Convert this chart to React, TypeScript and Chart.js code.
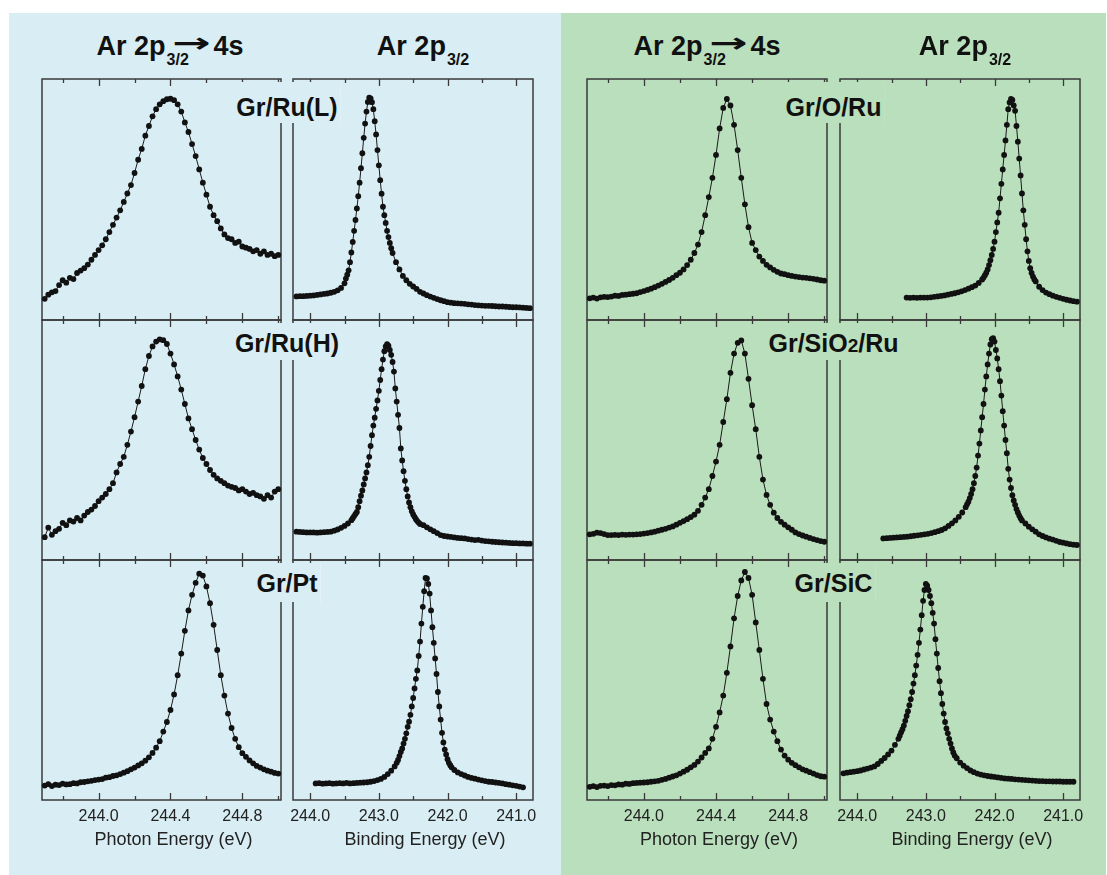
import React, { useEffect, useRef } from "react";
import { Chart, registerables } from "chart.js";

Chart.register(...registerables);

// ---------- axis ticks ----------
const photonMajorTicks = [244.0, 244.4, 244.8];
const photonMajorLabels = ["244.0", "244.4", "244.8"];
const photonMinorTicks = [243.8, 244.2, 244.6, 245.0];
const bindingMajorTicks = [244, 243, 242, 241];
const bindingMajorLabels = ["244.0", "243.0", "242.0", "241.0"];
const bindingMinorTicks = [243.5, 242.5, 241.5];

const photonRange = [243.685, 245.015];
const bindingRange = [240.755, 244.25];

// ---------- sample positions (eV) : [from, to, step] ----------
const photonSegs = [[243.7, 245.0, 0.02]];
const grRuLBindSegs = [[244.2, 243.5, 0.05], [243.48, 242.8, 0.02], [242.75, 240.8, 0.05]];
const grRuHBindSegs = [[244.2, 243.4, 0.05], [243.38, 242.4, 0.02], [242.35, 240.8, 0.05]];
const grPtBindSegs = [[243.92, 242.77, 0.05], [242.74, 241.94, 0.02], [241.9, 240.9, 0.05]];
const grORuBindSegs = [[243.28, 242.18, 0.05], [242.16, 241.4, 0.02], [241.35, 240.8, 0.05]];
const grSiO2BindSegs = [[243.62, 242.42, 0.05], [242.4, 241.6, 0.02], [241.55, 240.8, 0.05]];
const grSiCBindSegs = [[244.2, 243.45, 0.05], [243.4, 242.58, 0.02], [242.55, 240.85, 0.05]];

// ---------- intensities (arb. units, 0-100 of panel height) ----------
const grRuLPhoton = [
  8.8, 10.5, 11.5, 12.0, 14.5, 16.5, 15.5, 17.5, 17.0, 19.5, 20.5,
  21.5, 23.0, 25.0, 27.0, 29.0, 31.0, 33.5, 36.5, 39.5, 42.5, 45.5,
  49.0, 52.5, 56.0, 61.0, 66.5, 71.0, 76.5, 80.5, 84.5, 87.5, 89.5,
  90.8, 91.6, 91.8, 91.2, 89.5, 86.5, 82.0, 78.0, 73.0, 68.0, 62.5,
  57.0, 52.0, 47.0, 43.5, 41.0, 38.0, 35.5, 34.0, 33.5, 32.0, 32.5,
  30.5, 30.0, 29.5, 28.5, 29.0, 27.5, 28.5, 27.0, 27.5, 26.5, 27.0,
];
const grRuHPhoton = [
  9.5, 13.5, 10.5, 12.0, 13.0, 15.5, 14.5, 16.5, 16.0, 17.5, 16.5,
  18.5, 20.0, 21.0, 22.5, 24.5, 26.0, 27.5, 29.5, 32.0, 36.5, 40.0,
  43.0, 48.0, 53.5, 59.5, 66.0, 72.5, 79.5, 85.0, 89.0, 91.0, 91.9,
  91.6, 90.0, 86.0, 81.5, 76.5, 71.0, 65.0, 59.0, 54.5, 50.0, 46.0,
  42.5, 40.0, 37.5, 35.5, 34.0, 33.0, 32.0, 31.0, 30.5, 30.0, 29.0,
  29.5, 28.5, 27.5, 28.0, 27.0, 26.5, 25.5, 27.0, 26.0, 28.5, 29.5,
];
const grPtPhoton = [
  6.0, 6.6, 5.8, 6.4, 6.2, 6.8, 6.5, 6.6, 7.0, 6.9, 7.4,
  7.5, 7.8, 8.0, 8.3, 8.5, 8.7, 9.3, 9.5, 10.0, 10.3, 10.8,
  11.4, 12.0, 12.8, 13.5, 14.4, 15.3, 16.4, 17.8, 19.6, 21.8, 24.5,
  28.5, 32.5, 37.5, 44.0, 52.0, 61.0, 70.5, 79.0, 85.5, 90.5, 94.3,
  93.5, 89.0, 82.0, 73.0, 62.5, 52.0, 43.5, 36.0, 30.0, 25.5, 22.0,
  19.5, 18.0, 16.5, 15.3, 14.2, 13.5, 12.8, 12.2, 11.8, 11.3, 11.0,
];
const grORuPhoton = [
  9.0, 9.3, 8.9, 9.4, 9.6, 9.5, 9.7, 10.1, 10.0, 10.4, 10.5,
  10.7, 10.9, 11.1, 11.6, 12.0, 12.5, 13.0, 13.6, 14.3, 15.0, 15.8,
  16.6, 17.5, 18.6, 19.6, 21.0, 22.8, 25.0, 27.8, 31.3, 36.5, 43.5,
  51.0, 59.0, 68.5, 79.5, 88.0, 91.7, 89.0, 81.0, 70.5, 59.0, 48.0,
  38.5, 32.0, 29.0, 26.3, 24.5, 22.9, 21.8, 20.8, 20.0, 19.3, 19.0,
  18.6, 18.3, 18.0, 17.8, 17.6, 17.5, 17.3, 17.1, 16.8, 16.5, 16.3,
];
const grSiO2Photon = [
  10.7, 10.9, 11.4, 11.2, 10.8, 10.4, 10.4, 10.5, 10.4, 10.6, 10.5,
  10.6, 10.6, 10.7, 10.8, 11.0, 11.2, 11.5, 11.8, 12.2, 12.6, 13.0,
  13.5, 14.0, 14.7, 15.5, 16.2, 17.0, 17.9, 18.9, 20.5, 23.0, 26.0,
  29.5, 35.0, 41.0, 48.0, 57.5, 67.0, 78.0, 86.0, 90.5, 91.5, 86.0,
  75.5, 64.5, 54.5, 43.0, 33.5, 27.1, 23.0, 19.7, 17.5, 15.9, 14.7,
  13.6, 12.6, 11.5, 10.8, 10.2, 9.7, 9.2, 8.7, 8.3, 7.9, 7.6,
];
const grSiCPhoton = [
  5.5, 5.8, 5.4, 5.9, 6.0, 5.8, 6.2, 6.1, 6.5, 6.4, 6.8,
  6.7, 7.0, 7.1, 7.2, 7.3, 7.4, 7.6, 7.8, 8.0, 8.4, 8.8,
  9.3, 9.8, 10.3, 11.0, 11.8, 12.6, 13.6, 14.6, 16.0, 17.7, 19.6,
  21.5, 25.5, 30.5, 36.5, 43.5, 53.0, 64.0, 75.7, 85.0, 91.5, 95.0,
  92.5, 85.5, 74.0, 62.5, 50.5, 40.0, 33.5, 28.5, 24.5, 21.0, 18.5,
  16.8, 15.5, 14.5, 13.6, 12.8, 12.2, 11.6, 11.0, 10.4, 9.9, 9.7,
];

const grRuLBinding = [
  9.8, 9.9, 9.9, 10.0, 10.1, 10.2, 10.4, 10.6, 10.8, 11.0, 11.3, 11.7, 12.3, 13.3, 15.2,
  17.2, 18.8, 20.6, 24.0, 28.0, 32.4, 37.0, 41.5, 46.3, 51.4, 57.0, 63.0, 69.2, 75.6, 81.5,
  86.5, 90.5, 92.3, 92.0, 90.4, 87.5, 82.5, 77.0, 70.5, 64.2, 58.0, 52.4, 47.0, 43.5, 40.3,
  37.0, 34.4, 32.0, 29.8, 27.8,
  24.0, 21.0, 18.3, 16.5, 15.0, 13.9, 12.9, 11.7, 11.0, 10.3, 9.7, 9.2, 8.7, 8.2, 7.8,
  7.4, 7.2, 7.0, 6.9, 6.8, 6.7, 6.5, 6.4, 6.2, 6.1, 6.0, 5.9, 5.9, 5.8, 5.7,
  5.6, 5.6, 5.5, 5.4, 5.3, 5.3, 5.2, 5.1, 5.0, 4.9,
];
const grRuHBinding = [
  11.8, 11.7, 11.6, 11.5, 11.5, 11.5, 11.4, 11.5, 11.6, 11.7, 11.8, 12.2, 12.7, 13.4, 14.2, 15.2, 16.6,
  17.4, 18.3, 19.2, 20.0, 22.0, 24.5, 26.8, 29.0, 31.5, 34.0, 36.5, 39.5, 43.0, 47.5, 52.0,
  56.0, 59.3, 63.0, 66.5, 70.5, 75.0, 79.5, 83.5, 87.0, 89.0, 89.9, 89.3, 87.5, 85.5, 82.5,
  78.5, 71.5, 66.0, 60.5, 55.0, 46.5, 41.5, 37.0, 33.0, 29.5, 26.5, 24.0, 22.0, 20.3, 19.0,
  18.0, 17.0, 16.2, 15.6, 15.0,
  14.5, 13.6, 12.8, 12.0, 11.2, 10.4, 10.0, 9.8, 9.6, 9.4, 9.2, 9.1, 9.0, 8.7, 8.5, 8.3,
  8.4, 8.1, 7.9, 7.8, 7.6, 7.5, 7.4, 7.3, 7.2, 7.1, 7.0, 7.0, 6.9, 6.9, 6.8, 6.8,
];
const grPtBinding = [
  6.9, 7.0, 6.8, 6.9, 7.0, 6.8, 6.9, 7.0, 6.9, 7.1, 6.9, 7.0, 7.1, 7.2, 7.3, 7.4, 7.6, 7.9,
  8.3, 8.8, 9.6, 10.8, 12.2, 14.0,
  15.5, 16.7, 18.3, 20.0, 21.5, 23.5, 25.5, 27.8, 30.5, 32.6, 35.5, 39.0, 42.5, 46.5, 50.5,
  54.0, 60.0, 66.0, 73.5, 80.5, 87.0, 92.5, 92.3, 90.0, 86.0, 79.0, 72.0, 65.5, 59.0, 52.5,
  45.0, 39.0, 33.5, 28.0, 24.0, 21.0, 19.0, 17.0, 15.5, 14.5, 13.6,
  12.5, 11.5, 10.8, 10.2, 9.6, 9.2, 8.9, 8.5, 8.2, 7.9, 7.6, 7.5, 7.3, 7.1, 6.9, 6.6, 6.4,
  6.1, 5.9, 5.6, 5.3,
];
const grORuBinding = [
  9.3, 9.2, 9.3, 9.2, 9.3, 9.3, 9.3, 9.4, 9.6, 9.8, 10.0, 10.2, 10.5, 10.8, 11.1, 11.5,
  11.9, 12.4, 13.0, 13.6, 14.3, 15.4, 16.8,
  17.6, 18.6, 19.6, 21.0, 22.8, 24.8, 27.0, 29.5, 32.5, 36.5, 40.5, 44.5, 50.5, 56.5, 62.5,
  68.5, 74.5, 81.0, 87.5, 90.3, 91.7, 91.3, 89.0, 86.8, 80.5, 74.0, 67.0, 60.0, 52.5, 45.5,
  39.5, 33.5, 28.5, 24.5, 21.5, 19.5, 18.0, 16.8, 16.0,
  13.8, 12.4, 11.4, 10.7, 10.1, 9.6, 9.2, 8.8, 8.4, 8.1, 7.8, 7.6,
];
const grSiO2Binding = [
  9.0, 9.1, 9.2, 9.3, 9.4, 9.5, 9.6, 9.7, 9.9, 10.1, 10.3, 10.5, 10.7, 10.9, 11.2, 11.6,
  12.0, 12.5, 13.2, 14.2, 15.3, 16.5, 18.0, 19.8, 22.0,
  23.2, 24.3, 25.8, 27.5, 29.5, 32.0, 35.0, 38.5, 43.5, 48.5, 54.0, 59.5, 65.0, 71.0, 76.5,
  81.5, 86.0, 89.8, 92.0, 92.4, 91.0, 87.5, 84.0, 79.5, 74.5, 68.5, 62.0, 56.0, 50.0, 44.5,
  38.0, 33.5, 30.0, 27.0, 24.8, 23.0, 21.2, 19.8, 18.5, 17.4, 16.5,
  15.2, 13.9, 12.8, 11.8, 10.7, 10.0, 9.4, 8.9, 8.5, 8.0, 7.5, 7.2, 6.9, 6.6, 6.4, 6.25,
];
const grSiCBinding = [
  11.1, 11.4, 11.6, 11.8, 12.0, 12.3, 12.7, 13.1, 13.5, 14.0, 15.0, 16.3, 17.5, 19.0, 20.6, 23.0,
  25.5, 26.8, 28.2, 29.5, 31.0, 33.0, 35.0, 37.0, 39.5, 42.0, 45.0, 48.5, 52.0, 56.0, 60.5,
  65.5, 71.0, 77.0, 83.0, 87.5, 90.0, 89.3, 87.5, 85.0, 82.0, 78.0, 73.5, 67.0, 61.0, 55.0,
  49.5, 44.5, 40.0, 36.0, 32.5, 29.8, 27.8, 25.5, 23.5, 21.5, 19.8, 18.5,
  17.4, 15.6, 14.3, 13.3, 12.3, 11.6, 11.0, 10.6, 10.3, 10.0, 9.8, 9.6, 9.4, 9.2, 9.0, 8.9,
  8.8, 8.6, 8.5, 8.4, 8.3, 8.2, 8.1, 8.0, 7.9, 7.9, 7.8, 7.8, 7.7, 7.7, 7.7, 7.6, 7.6, 7.6, 7.6,
];

const sampleLabels = [
  ["Gr/Ru(L)", "Gr/Ru(H)", "Gr/Pt"],
  ["Gr/O/Ru", "Gr/SiO2/Ru", "Gr/SiC"],
];

// ---------- layout ----------
const colLeft = [42, 293, 587, 840];
const colWidth = [239, 240, 240, 240];
const rowTop = [79, 320, 560];
const rowHeight = [241, 240, 240];
const PAD = 10;
const BLUE = "#d9eef4";
const GREEN = "#badfbc";
const FONT = '"Liberation Sans", Arial, Helvetica, sans-serif';

function sampleX(segs: number[][]): number[] {
  const xs: number[] = [];
  for (const [a, b, step] of segs) {
    const n = Math.round(Math.abs(b - a) / step) + 1;
    const dir = b < a ? -1 : 1;
    for (let i = 0; i < n; i++) xs.push(+(a + dir * i * step).toFixed(3));
  }
  return xs;
}

type PanelDef = { col: number; row: number; segs: number[][]; ys: number[] };

const panels: PanelDef[] = [
  { col: 0, row: 0, segs: photonSegs, ys: grRuLPhoton },
  { col: 1, row: 0, segs: grRuLBindSegs, ys: grRuLBinding },
  { col: 0, row: 1, segs: photonSegs, ys: grRuHPhoton },
  { col: 1, row: 1, segs: grRuHBindSegs, ys: grRuHBinding },
  { col: 0, row: 2, segs: photonSegs, ys: grPtPhoton },
  { col: 1, row: 2, segs: grPtBindSegs, ys: grPtBinding },
  { col: 2, row: 0, segs: photonSegs, ys: grORuPhoton },
  { col: 3, row: 0, segs: grORuBindSegs, ys: grORuBinding },
  { col: 2, row: 1, segs: photonSegs, ys: grSiO2Photon },
  { col: 3, row: 1, segs: grSiO2BindSegs, ys: grSiO2Binding },
  { col: 2, row: 2, segs: photonSegs, ys: grSiCPhoton },
  { col: 3, row: 2, segs: grSiCBindSegs, ys: grSiCBinding },
];

const framePlugin = {
  id: "frame",
  beforeDatasetsDraw(chart: any) {
    const o = chart.options.plugins.frame;
    const { ctx, chartArea: a } = chart;
    const x = chart.scales.x;
    ctx.save();
    ctx.strokeStyle = "#3a3a3a";
    ctx.lineWidth = 1.5;
    ctx.strokeRect(a.left, a.top, a.right - a.left, a.bottom - a.top);
    ctx.lineWidth = 1.3;
    const tick = (v: number, len: number) => {
      const px = Math.round(x.getPixelForValue(v)) + 0.5;
      ctx.beginPath();
      ctx.moveTo(px, a.top);
      ctx.lineTo(px, a.top + len);
      ctx.moveTo(px, a.bottom);
      ctx.lineTo(px, a.bottom - len);
      ctx.stroke();
    };
    o.major.forEach((v: number) => tick(v, 7));
    o.minor.forEach((v: number) => tick(v, 4));
    if (o.showLabels) {
      ctx.fillStyle = "#222";
      ctx.textAlign = "center";
      ctx.textBaseline = "alphabetic";
      ctx.font = `16px ${FONT}`;
      o.major.forEach((v: number, i: number) => {
        ctx.fillText(o.labels[i], x.getPixelForValue(v), a.bottom + 21);
      });
      ctx.font = `18px ${FONT}`;
      ctx.fillText(o.title, (a.left + a.right) / 2 + 12, a.bottom + 45);
    }
    ctx.restore();
  },
};

function Panel({ p }: { p: PanelDef }) {
  const ref = useRef<HTMLCanvasElement | null>(null);
  const photon = p.col % 2 === 0;
  const bottomRow = p.row === 2;
  const w = colWidth[p.col] + 2 * PAD;
  const h = rowHeight[p.row] + 2 * PAD + (bottomRow ? 52 : 0);
  useEffect(() => {
    const xs = sampleX(p.segs);
    const n = Math.min(xs.length, p.ys.length);
    const data = [];
    for (let i = 0; i < n; i++) data.push({ x: xs[i], y: p.ys[i] });
    const range = photon ? photonRange : bindingRange;
    const chart = new Chart(ref.current as HTMLCanvasElement, {
      type: "line",
      data: {
        datasets: [
          {
            data,
            borderColor: "#1a1a1a",
            borderWidth: 1,
            pointRadius: 2.9,
            pointHoverRadius: 2.9,
            pointBorderWidth: 0,
            pointBackgroundColor: "#111",
            tension: 0,
            clip: 6,
          } as any,
        ],
      },
      options: {
        animation: false,
        responsive: false,
        devicePixelRatio: 1,
        events: [],
        layout: { padding: { left: PAD, right: PAD, top: PAD, bottom: PAD + (bottomRow ? 52 : 0) } },
        plugins: {
          legend: { display: false },
          tooltip: { enabled: false },
          frame: {
            major: photon ? photonMajorTicks : bindingMajorTicks,
            minor: photon ? photonMinorTicks : bindingMinorTicks,
            labels: photon ? photonMajorLabels : bindingMajorLabels,
            showLabels: bottomRow,
            title: photon ? "Photon Energy (eV)" : "Binding Energy (eV)",
          },
        } as any,
        scales: {
          x: { type: "linear", min: range[0], max: range[1], reverse: !photon, display: false },
          y: { type: "linear", min: 0, max: 100, display: false },
        },
      },
      plugins: [framePlugin],
    });
    return () => chart.destroy();
  }, []);
  return (
    <canvas
      ref={ref}
      width={w}
      height={h}
      style={{ position: "absolute", left: colLeft[p.col] - PAD, top: rowTop[p.row] - PAD, width: w, height: h, zIndex: 1 }}
    />
  );
}

const labelBoxTop = [82, 323, 563];
const labelBoxHeight = [41, 37, 39];
const labelBaseline = [116, 352, 592];

function SampleLabel({ text, side, row }: { text: string; side: number; row: number }) {
  const cx = side === 0 ? (colLeft[0] + colWidth[0] + colLeft[1]) / 2 : (colLeft[2] + colWidth[2] + colLeft[3]) / 2;
  const pt = labelBaseline[row] - 22.7 - labelBoxTop[row];
  const pb = labelBoxHeight[row] - 28 - pt;
  let content: React.ReactNode = text;
  if (text === "Gr/SiO2/Ru") {
    content = (
      <>
        Gr/SiO<span style={{ fontSize: 19, lineHeight: "0px" }}>2</span>/Ru
      </>
    );
  }
  return (
    <div
      style={{
        position: "absolute",
        left: cx,
        top: labelBoxTop[row],
        transform: "translateX(-50%)",
        background: side === 0 ? BLUE : GREEN,
        font: `bold 25px ${FONT}`,
        lineHeight: "28px",
        paddingTop: pt,
        paddingBottom: Math.max(0, pb),
        paddingLeft: 3,
        paddingRight: 3,
        whiteSpace: "nowrap",
        color: "#111",
        zIndex: 3,
      }}
    >
      {content}
    </div>
  );
}

const TITLE_BASELINE = 55;

function Title({ cx, arrow }: { cx: number; arrow: boolean }) {
  return (
    <div
      style={{
        position: "absolute",
        left: cx,
        top: TITLE_BASELINE - 25.3,
        transform: "translateX(-50%)",
        font: `bold 27px ${FONT}`,
        lineHeight: "32px",
        whiteSpace: "nowrap",
        color: "#111",
        zIndex: 3,
      }}
    >
      Ar 2p
      <span style={{ fontSize: 16, lineHeight: "0px", position: "relative", top: 10, marginLeft: 1 }}>3/2</span>
      {arrow ? (
        <>
          <span
            style={{
              display: "inline-block",
              fontFamily: '"DejaVu Sans", sans-serif',
              fontWeight: "bold",
              fontSize: 27,
              lineHeight: "0px",
              transform: "scaleX(1.7)",
              transformOrigin: "left center",
              marginLeft: -16,
              marginRight: 18,
              position: "relative",
              top: -3,
            }}
          >
            →
          </span>
          4s
        </>
      ) : null}
    </div>
  );
}

export default function App() {
  return (
    <div style={{ position: "absolute", left: 0, top: 0, width: 1107, height: 875, background: "#fff", overflow: "hidden" }}>
      <div style={{ position: "absolute", left: 9, top: 13, width: 552, height: 862, background: BLUE }} />
      <div style={{ position: "absolute", left: 561, top: 13, width: 545, height: 862, background: GREEN }} />
      <Title cx={170} arrow={true} />
      <Title cx={423} arrow={false} />
      <Title cx={707} arrow={true} />
      <Title cx={965} arrow={false} />
      {panels.map((p, i) => (
        <Panel key={i} p={p} />
      ))}
      {sampleLabels.map((list, side) =>
        list.map((t, row) => <SampleLabel key={side + "-" + row} text={t} side={side} row={row} />)
      )}
    </div>
  );
}
